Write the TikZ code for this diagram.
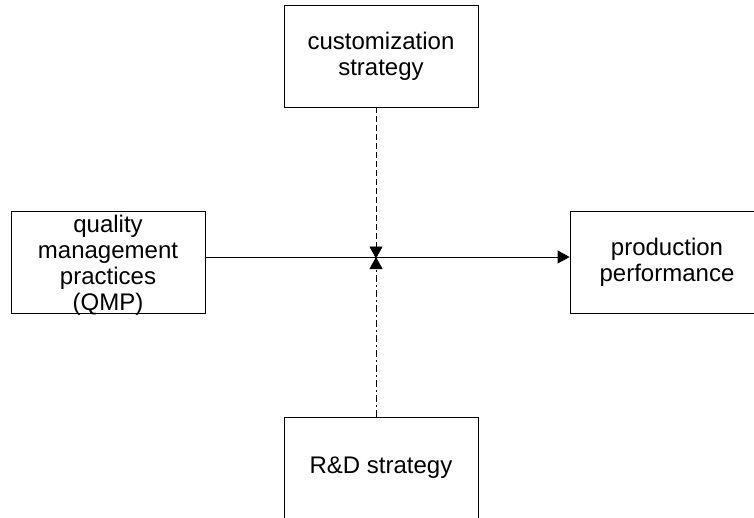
\documentclass[tikz,border=0pt]{standalone}
\usepackage{fontspec}
\setmainfont{Liberation Sans}
\usetikzlibrary{arrows.meta}

\begin{document}
\begin{tikzpicture}[x=1pt, y=-1pt,
  block/.style={draw, line width=0.9pt, minimum width=194pt, minimum height=102pt, inner sep=0pt, align=center,
    font=\fontsize{24}{26}\selectfont},
  tip/.style={-{Triangle[length=12pt,width=13pt]}}]
\clip (0,0) rectangle (754,517);
\node[block] (cust) at (381,56) {customization\\strategy};
\node[block] (qmp) at (108,262.5) {quality\\management\\practices\\\smash{(QMP)}};
\node[block] (perf) at (667,262.5) {production\\performance};
\node[block] (rnd) at (381,468) {R\&D strategy};
\coordinate (hub) at (376,257);
\draw[tip, line width=0.9pt] (qmp.east |- hub) -- (perf.west |- hub);
\draw[tip, line width=0.9pt, dash pattern=on 6pt off 3pt] (cust.south -| hub) -- ([yshift=-1.5pt]hub);
\draw[tip, line width=0.9pt, dash pattern=on 7pt off 3pt on 2pt off 3pt] (rnd.north -| hub) -- (hub);
\end{tikzpicture}
\end{document}
